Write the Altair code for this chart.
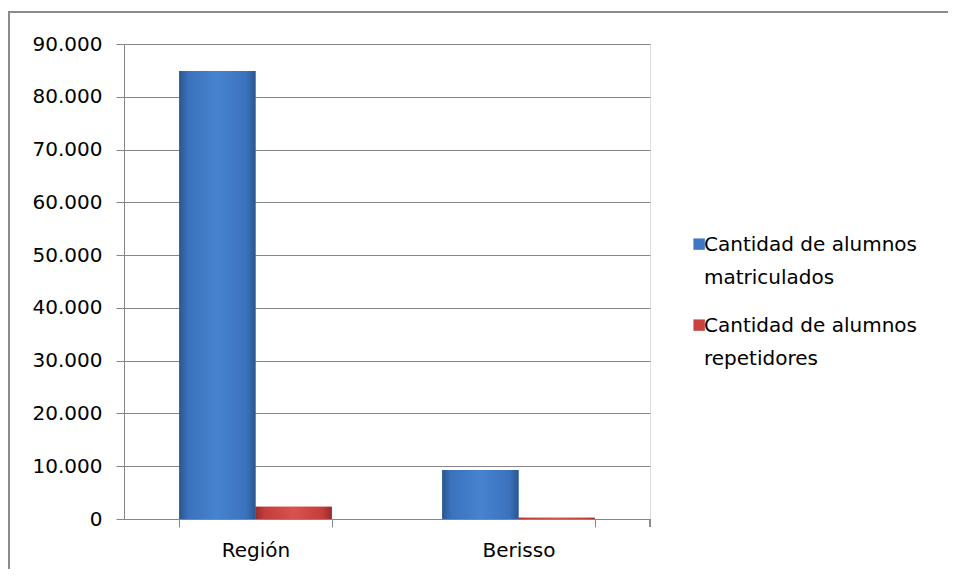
import altair as alt
import pandas as pd

categories = ["Región", "Berisso"]
series_names = ["Cantidad de alumnos\nmatriculados", "Cantidad de alumnos\nrepetidores"]
matriculados = [84900, 9300]
repetidores = [2330, 250]
y_ticks = [0, 10000, 20000, 30000, 40000, 50000, 60000, 70000, 80000, 90000]

rows = []
for i, c in enumerate(categories):
    rows.append({"cat": c, "serie": series_names[0], "valor": matriculados[i]})
    rows.append({"cat": c, "serie": series_names[1], "valor": repetidores[i]})
df = pd.DataFrame(rows)

FONT = "DejaVu Sans"
GRAY = "#868686"
FS = 20

x_enc = alt.X("cat:N", sort=categories, title=None,
              scale=alt.Scale(paddingInner=0.42, paddingOuter=0.21),
              axis=alt.Axis(labelAngle=0, tickBand="extent", tickSize=8,
                            tickColor=GRAY, domainColor=GRAY, labelPadding=13,
                            labelFont=FONT, labelFontSize=FS, labelColor="#000",
                            grid=False))
xo_enc = alt.XOffset("serie:N", sort=series_names,
                     scale=alt.Scale(paddingInner=0, paddingOuter=0))
y_enc = alt.Y("valor:Q", title=None,
              scale=alt.Scale(domain=[0, 90000], nice=False),
              axis=alt.Axis(values=y_ticks, tickSize=8, tickColor=GRAY,
                            domainColor=GRAY, gridColor=GRAY, gridWidth=1,
                            labelPadding=14, labelFont=FONT, labelFontSize=FS,
                            labelColor="#000",
                            labelExpr="replace(format(datum.value, ','), ',', '.')"))

# square shifted down/right so it lines up with the first label line
SYMBOL = "M-0.1,0.6L1.9,0.6L1.9,2.6L-0.1,2.6Z"

base = alt.Chart(df).mark_bar(stroke=None).encode(
    x=x_enc, xOffset=xo_enc, y=y_enc,
    color=alt.Color("serie:N", sort=series_names,
                    scale=alt.Scale(domain=series_names, range=["#3f77c4", "#c94240"]),
                    legend=alt.Legend(title=None, orient="none", legendX=560, legendY=181,
                                      symbolType=SYMBOL, symbolSize=130,
                                      symbolStrokeWidth=0,
                                      labelFont=FONT, labelFontSize=FS,
                                      labelLimit=400, rowPadding=18,
                                      labelBaseline="top", labelOffset=0,
                                      labelExpr="split(datum.label, '\\n')")),
)

def grad(dark, mid, light):
    return alt.Gradient(gradient="linear", x1=0, x2=1, y1=0, y2=0, stops=[
        alt.GradientStop(color=dark, offset=0),
        alt.GradientStop(color=mid, offset=0.12),
        alt.GradientStop(color=light, offset=0.5),
        alt.GradientStop(color=mid, offset=0.88),
        alt.GradientStop(color=dark, offset=1),
    ])

blue_layer = alt.Chart(df).transform_filter(
    alt.datum.serie == series_names[0]
).mark_bar(fill=grad("#2b568f", "#3b72bd", "#4683d0")).encode(
    x=alt.X("cat:N", sort=categories), xOffset=alt.XOffset("serie:N", sort=series_names), y="valor:Q")

red_layer = alt.Chart(df).transform_filter(
    alt.datum.serie == series_names[1]
).mark_bar(fill=grad("#962d2b", "#c33d3b", "#d9524f")).encode(
    x=alt.X("cat:N", sort=categories), xOffset=alt.XOffset("serie:N", sort=series_names), y="valor:Q")

end_tick = alt.Chart(df).mark_rule(color=GRAY).encode(
    x=alt.value(526), y=alt.value(475), y2=alt.value(483))

frame = alt.Chart(df).mark_rect(fill=None, stroke="#8c8c8c", strokeWidth=2).encode(
    x=alt.value(-115), x2=alt.value(900), y=alt.value(-32), y2=alt.value(700))

chart = alt.layer(base, blue_layer, red_layer, end_tick, frame).properties(
    width=526, height=475,
    autosize=alt.AutoSizeParams(type="none"),
    padding={"left": 116, "top": 36, "right": 298, "bottom": 50},
).configure_view(stroke=None).configure(
    background="white",
    style={"guide-label": {"lineHeight": 33}},
)

chart.save("out.html", embed_options={"renderer": "svg", "actions": False})
